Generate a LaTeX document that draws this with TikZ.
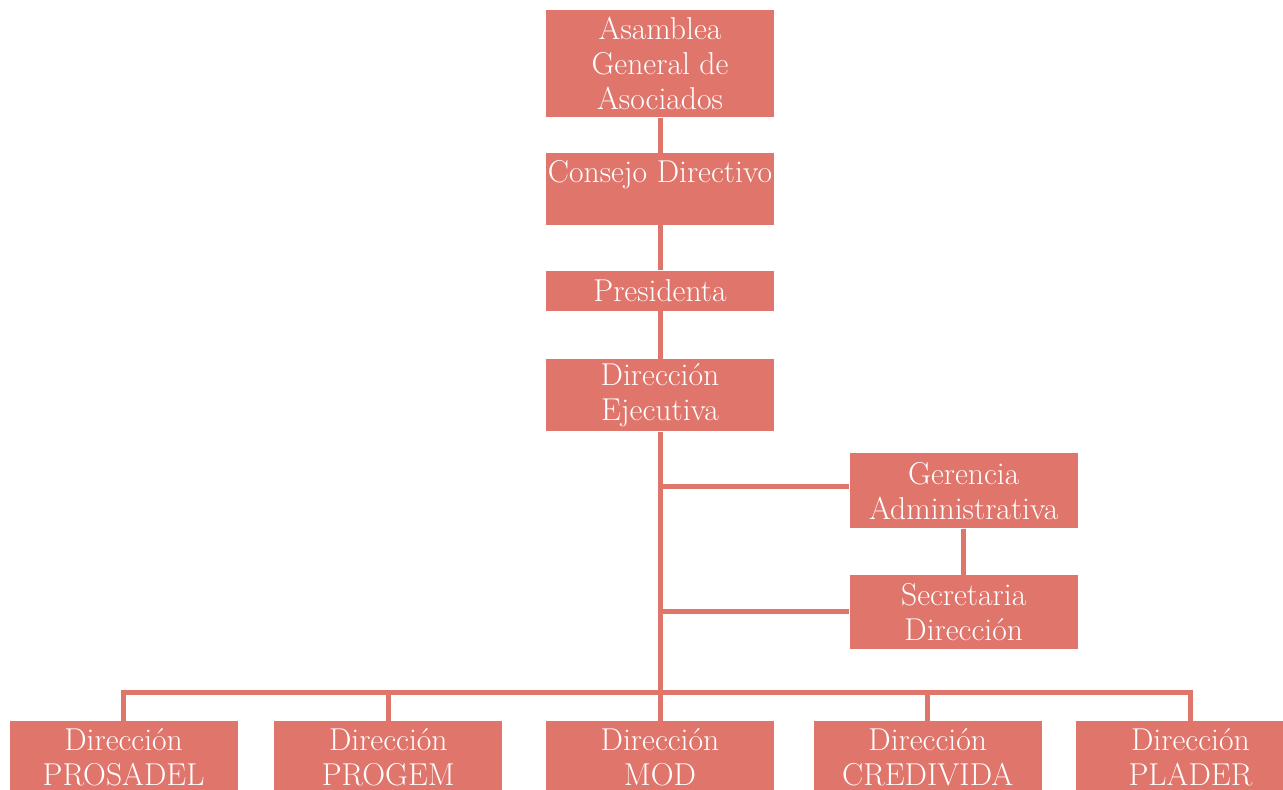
\documentclass[tikz,border=0pt]{standalone}
\usepackage{tikz}
\usetikzlibrary{positioning, calc}

\definecolor{boxred}{RGB}{224,117,108}

\begin{document}
\begin{tikzpicture}[node distance=0cm]
    \tikzstyle{unit} = [rectangle, minimum width=4.56cm, inner sep=0pt, align=center, text=white, fill=boxred, font=\fontsize{18}{19.9}\selectfont]
    \tikzstyle{link} = [draw=boxred, line width=0.1cm]

    \useasboundingbox (0,0) rectangle (25.66,-15.8);

    \node (asamblea) [unit, minimum height=2.14cm, anchor=north] at (13.2,-0.2) {Asamblea\\General de\\Asociados};
    \node (consejo) [unit, minimum height=1.44cm, below=0.7cm of asamblea] {Consejo Directivo\\~};
    \node (presidenta) [unit, minimum height=0.8cm, below=0.9cm of consejo] {Presidenta};
    \node (ejecutiva) [unit, minimum height=1.44cm, below=0.96cm of presidenta] {Dirección\\Ejecutiva};
    \node (gerencia) [unit, minimum height=1.5cm, below right=0.42cm and 1.5cm of ejecutiva] {Gerencia\\Administrativa};
    \node (secretaria) [unit, minimum height=1.48cm, below=0.92cm of gerencia] {Secretaria\\Dirección};

    % fila inferior de direcciones
    \node (mod) [unit, minimum height=1.44cm, below=5.78cm of ejecutiva] {Dirección\\MOD};
    \node (progem) [unit, minimum height=1.44cm, left=0.86cm of mod] {Dirección\\PROGEM};
    \node (prosadel) [unit, minimum height=1.44cm, left=0.72cm of progem] {Dirección\\PROSADEL};
    \node (credivida) [unit, minimum height=1.44cm, right=0.78cm of mod] {Dirección\\CREDIVIDA};
    \node (plader) [unit, minimum height=1.44cm, right=0.68cm of credivida] {Dirección\\PLADER};

    \coordinate (bus) at ($(ejecutiva.south)+(0,-5.22)$);
    \coordinate (branch) at ($(gerencia.west)+(0,0.09)$);

    \draw [link] (asamblea) -- (consejo);
    \draw [link] (consejo) -- (presidenta);
    \draw [link] (presidenta) -- (ejecutiva);
    \draw [link] (ejecutiva) -- (mod);
    \draw [link] (ejecutiva.south |- branch) -- (branch);
    \draw [link] (ejecutiva.south |- secretaria.west) -- (secretaria.west);
    \draw [link] (gerencia) -- (secretaria);

    % barra horizontal hacia las direcciones
    \draw [link] (prosadel.north) |- (bus) -| (plader.north);
    \draw [link] (progem.north) -- (progem.north |- bus);
    \draw [link] (credivida.north) -- (credivida.north |- bus);
\end{tikzpicture}
\end{document}
